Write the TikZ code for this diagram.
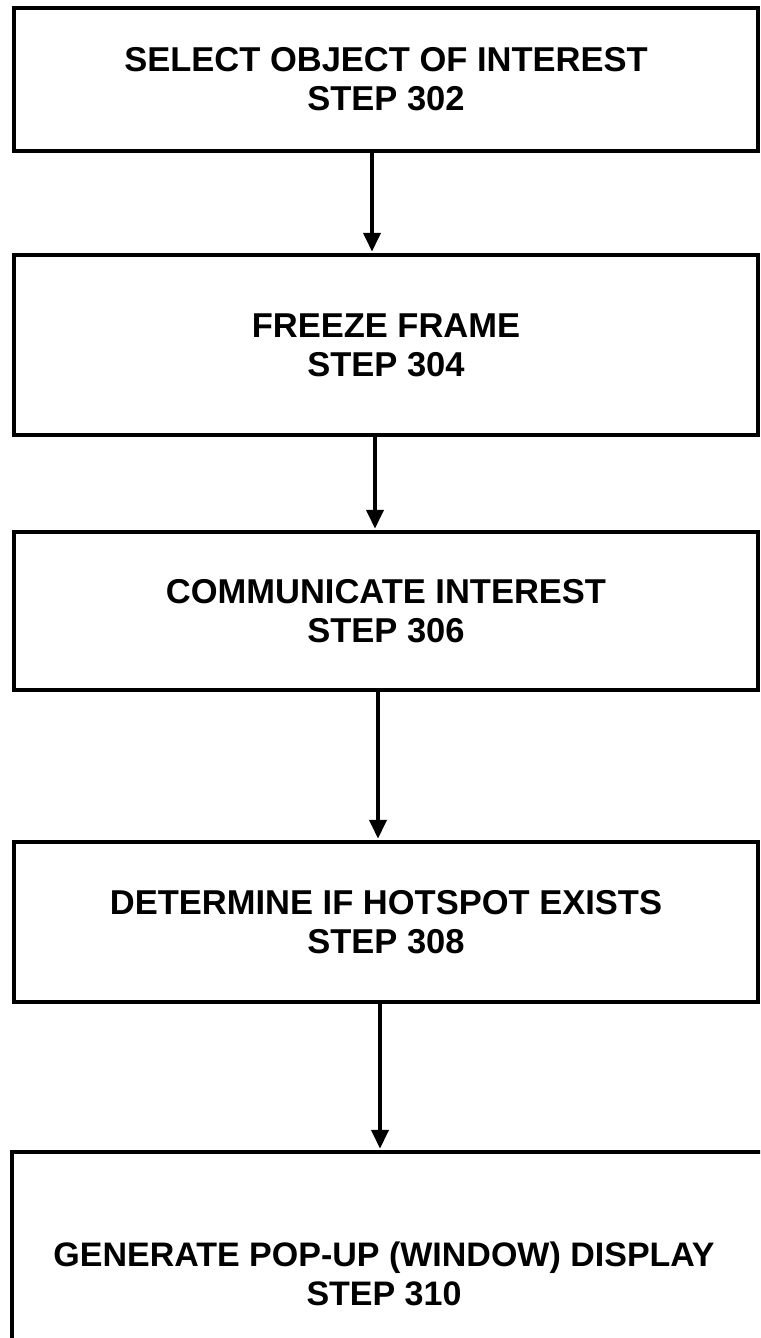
\documentclass[tikz,border=0pt]{standalone}
\usepackage{fontspec}
\setmainfont{Liberation Sans}
\usetikzlibrary{arrows.meta}
\tikzset{
  stepbox/.style={draw=black, line width=4.5pt, fill=none, minimum width=744pt, inner sep=0pt,
    align=center, font=\fontsize{34.5}{39}\selectfont\bfseries},
  txt/.style={inner sep=0pt, align=center, font=\fontsize{34}{39}\selectfont\bfseries},
  arr/.style={line width=4pt, -{Triangle[length=19pt,width=17pt]}, shorten >=1pt}
}
\begin{document}
\begin{tikzpicture}[x=1pt,y=-1pt]
\useasboundingbox (0,0) rectangle (760,1338);
\clip (0,0) rectangle (760,1338);
\node[stepbox, minimum height=143pt] (b1) at (386,79.5) {SELECT OBJECT OF INTEREST\\STEP 302};
\node[stepbox, minimum height=180pt] (b2) at (386,345) {FREEZE FRAME\\STEP 304};
\node[stepbox, minimum height=158pt] (b3) at (386,611) {COMMUNICATE INTEREST\\STEP 306};
\node[stepbox, minimum height=160pt] (b4) at (386,922) {DETERMINE IF HOTSPOT EXISTS\\STEP 308};
\node[stepbox, minimum width=758pt, minimum height=240pt] (b5) at (391,1272) {};
\node[txt] (t5) at (384,1274) {GENERATE POP-UP (WINDOW) DISPLAY\\STEP 310};
\draw[arr] ([xshift=-14pt]b1.south) -- ([xshift=-14pt]b2.north);
\draw[arr] ([xshift=-11pt]b2.south) -- ([xshift=-11pt]b3.north);
\draw[arr] ([xshift=-8pt]b3.south) -- ([xshift=-8pt]b4.north);
\draw[arr] ([xshift=-6pt]b4.south) -- ([xshift=-11pt]b5.north);
\end{tikzpicture}
\end{document}
